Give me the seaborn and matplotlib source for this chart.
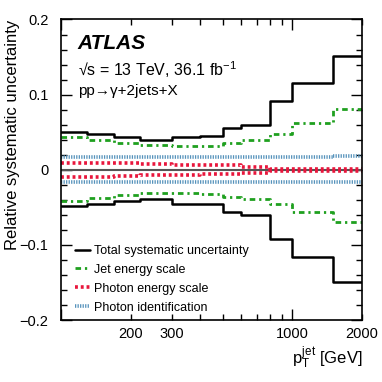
import matplotlib
matplotlib.use("Agg")
import matplotlib.pyplot as plt
import matplotlib.ticker as mticker
from matplotlib.lines import Line2D
import numpy as np
import pandas as pd
import seaborn as sns

# ---- data ----
bin_edges = [100, 130, 170, 220, 300, 400, 500, 600, 800, 1000, 1500, 2000]
total_up = [0.050, 0.047, 0.044, 0.040, 0.044, 0.045, 0.056, 0.060, 0.092, 0.116, 0.152]
total_dn = [-0.048, -0.045, -0.042, -0.039, -0.045, -0.046, -0.056, -0.060, -0.092, -0.116, -0.149]
jes_up = [0.043, 0.040, 0.036, 0.033, 0.032, 0.032, 0.035, 0.040, 0.048, 0.062, 0.081]
jes_dn = [-0.041, -0.037, -0.034, -0.031, -0.031, -0.032, -0.036, -0.039, -0.046, -0.056, -0.069]
pes_up = [0.009, 0.009, 0.0085, 0.0072, 0.0063, 0.0058, 0.0058, 0.0036, 0.0013, 0.0012, 0.0011]
pes_dn = [-0.009, -0.009, -0.0085, -0.0072, -0.0063, -0.0058, -0.0058, -0.0036, -0.0013, -0.0012, -0.0011]
pid_up = [0.0165, 0.0165, 0.0165, 0.0165, 0.0165, 0.0165, 0.0165, 0.0165, 0.0165, 0.0165, 0.0178]
pid_dn = [-0.0157, -0.0157, -0.0157, -0.0157, -0.0157, -0.0157, -0.0157, -0.0157, -0.0157, -0.0157, -0.0165]
labels = ["Total systematic uncertainty", "Jet energy scale",
          "Photon energy scale", "Photon identification"]
xticklabels = {200: "200", 300: "300", 1000: "1000", 2000: "2000"}

sns.set_theme(style="ticks")
plt.rcParams['font.family'] = ['Liberation Sans', 'DejaVu Sans']
plt.rcParams['mathtext.fontset'] = 'custom'
plt.rcParams['mathtext.rm'] = 'Liberation Sans'
plt.rcParams['mathtext.it'] = 'Liberation Sans'
plt.rcParams['text.color'] = 'black'
plt.rcParams['axes.labelcolor'] = 'black'
plt.rcParams['xtick.color'] = 'black'
plt.rcParams['ytick.color'] = 'black'

fig = plt.figure(figsize=(3.82, 3.82), dpi=100)
ax = fig.add_axes([0.16, 0.162, 0.788, 0.787])

def step_df(vals):
    return pd.DataFrame({"x": bin_edges, "y": list(vals) + [vals[-1]]})

c_tot = "black"
c_jes = "#1fa01f"
c_pes = "#e8163c"
c_pid = "#5592bb"

styles = [
    (total_up, total_dn, dict(color=c_tot, lw=1.8, ls="-")),
    (jes_up, jes_dn, dict(color=c_jes, lw=2.0, ls=(0, (2.0, 1.4, 0.8, 1.4)))),
    (pes_up, pes_dn, dict(color=c_pes, lw=2.6, ls=(0, (0.8, 0.8)))),
    (pid_up, pid_dn, dict(color=c_pid, lw=2.6, ls=(0, (0.35, 0.35)))),
]

ax.axhline(0, color="#555555", lw=1.5, zorder=1)

for up, dn, st in styles[::-1]:
    for vals in (up, dn):
        d = step_df(vals)
        sns.lineplot(data=d, x="x", y="y", ax=ax, estimator=None, sort=False,
                     drawstyle="steps-post", legend=False, **st)

ax.set_xscale("log")
ax.set_xlim(100, 2000)
ax.set_ylim(-0.2, 0.2)

ax.xaxis.set_major_locator(mticker.FixedLocator([100, 1000]))
ax.xaxis.set_minor_locator(mticker.FixedLocator([200, 300, 400, 500, 600, 700, 800, 900, 2000]))
ax.xaxis.set_major_formatter(mticker.FuncFormatter(lambda v, p: xticklabels.get(int(round(v)), "")))
ax.xaxis.set_minor_formatter(mticker.FuncFormatter(lambda v, p: xticklabels.get(int(round(v)), "")))
ax.yaxis.set_major_locator(mticker.MultipleLocator(0.1))
ax.yaxis.set_minor_locator(mticker.MultipleLocator(0.02))
ax.yaxis.set_major_formatter(mticker.FuncFormatter(
    lambda v, p: "0" if abs(v) < 1e-9 else ("\u2212%.1f" % abs(v) if v < 0 else "%.1f" % v)))

ax.tick_params(which="both", direction="in", top=True, right=True, labelsize=10.5, width=1.0)
ax.tick_params(which="major", length=8)
ax.tick_params(which="minor", length=4.5)
ax.tick_params(axis="x", which="both", pad=5)
ax.tick_params(axis="y", which="both", pad=9)
for s in ax.spines.values():
    s.set_linewidth(1.2)
    s.set_color("black")

ax.set_xlabel(r"$p_{\mathrm{T}}^{\mathrm{jet}}$ [GeV]", fontsize=12, ha="right", x=1.0, labelpad=3)
ax.set_ylabel("Relative systematic uncertainty", fontsize=12, ha="right", y=1.0)
ax.yaxis.set_label_coords(-0.135, 1.0)

ax.text(0.055, 0.952, "ATLAS", transform=ax.transAxes, fontsize=15,
        fontweight="bold", fontstyle="italic", va="top")
ax.text(0.055, 0.868, "\u221as = 13 TeV, 36.1 fb$^{-1}$", transform=ax.transAxes,
        fontsize=11.5, va="top")
ax.text(0.055, 0.785, "pp\u2192\u03b3+2jets+X", transform=ax.transAxes, fontsize=11, va="top")

handles = [Line2D([], [], **st) for _, _, st in styles]
leg = ax.legend(handles, labels, loc="lower left", bbox_to_anchor=(14 / 301, 0.022),
                frameon=False, fontsize=9, handlelength=1.2, handletextpad=0.35,
                labelspacing=0.55, borderaxespad=0.0, borderpad=0.0)

fig.savefig("out.png", dpi=100)
